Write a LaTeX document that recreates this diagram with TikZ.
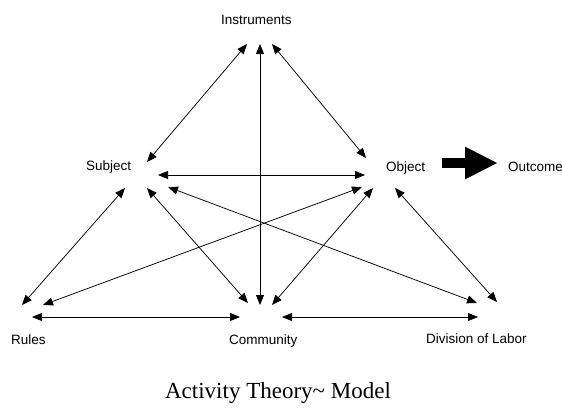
\documentclass[tikz,border=0pt]{standalone}
\usepackage{fontspec}
\setmainfont{Liberation Serif}
\setsansfont{Liberation Sans}
\usetikzlibrary{arrows.meta}
\begin{document}
\begin{tikzpicture}[x=1pt,y=-1pt,
  lab/.style={font=\sffamily\fontsize{13.5}{15}\selectfont, inner sep=0pt, anchor=base west},
  link/.style={{Triangle[length=10pt,width=8pt]}-{Triangle[length=10pt,width=8pt]}, line width=0.75pt},
  big/.style={line width=10pt, -{Triangle[length=33pt,width=30pt]}},
]
\useasboundingbox (0,0) rectangle (562,418);
% labels
\node[lab] (ins) at (221,24) {Instruments};
\node[lab] (sub) at (86,170) {Subject};
\node[lab] (obj) at (386,171) {Object};
\node[lab] (out) at (508,171) {Outcome};
\node[lab] (rul) at (11,344) {Rules};
\node[lab] (com) at (229,344) {Community};
\node[lab] (div) at (426,343) {Division of Labor};
\node[font=\rmfamily\fontsize{23}{27}\selectfont, inner sep=0pt, anchor=base] (cap) at (278,398) {Activity Theory\textasciitilde{} Model};
% connector end points
\coordinate (ins-a) at (247,44);  \coordinate (sub-a) at (147,162);
\coordinate (ins-b) at (260,44);  \coordinate (com-b) at (260,305);
\coordinate (ins-c) at (272,44);  \coordinate (obj-c) at (366,158);
\coordinate (sub-d) at (158,175); \coordinate (obj-d) at (365,175);
\coordinate (sub-e) at (168,187); \coordinate (div-e) at (477,303);
\coordinate (obj-f) at (362,187); \coordinate (rul-f) at (43,305);
\coordinate (obj-g) at (373,188); \coordinate (com-g) at (272,305);
\coordinate (sub-h) at (125,188); \coordinate (rul-h) at (22,305);
\coordinate (sub-i) at (147,188); \coordinate (com-i) at (248,303);
\coordinate (obj-j) at (395,188); \coordinate (div-j) at (497,302);
\coordinate (rul-k) at (32,317);  \coordinate (com-k) at (240,317);
\coordinate (com-l) at (282,317); \coordinate (div-l) at (478,317);
\coordinate (obj-o) at (442,163); \coordinate (out-o) at (498,163);
% connectors
\draw[link] (ins-a) -- (sub-a);
\draw[link] (ins-b) -- (com-b);
\draw[link] (ins-c) -- (obj-c);
\draw[link] (sub-d) -- (obj-d);
\draw[link] (sub-e) -- (div-e);
\draw[link] (obj-f) -- (rul-f);
\draw[link] (obj-g) -- (com-g);
\draw[link] (sub-h) -- (rul-h);
\draw[link] (sub-i) -- (com-i);
\draw[link] (obj-j) -- (div-j);
\draw[link] (rul-k) -- (com-k);
\draw[link] (com-l) -- (div-l);
\draw[big] (obj-o) -- (out-o);
\end{tikzpicture}
\end{document}
